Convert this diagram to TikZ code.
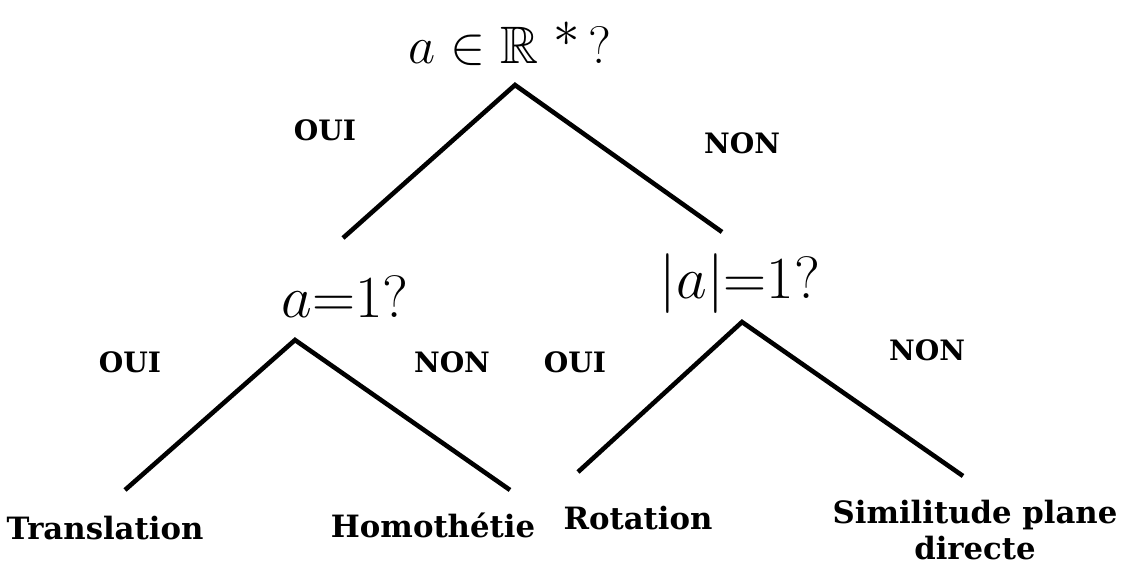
\documentclass[tikz,border=0pt]{standalone}
\usepackage{fix-cm}
\usepackage{amsmath,amssymb}
\usepackage{fontspec}
\newfontfamily\labfont{DejaVu Serif}
\usepackage{tikz}
\usetikzlibrary{positioning}

\begin{document}
\begin{tikzpicture}[
  x=0.02cm,y=-0.02cm,
  quest/.style={inner sep=0pt,font=\fontsize{34}{38}\selectfont},
  ans/.style={inner sep=0pt,font=\labfont\bfseries\fontsize{16}{18}\selectfont},
  leaf/.style={inner sep=0pt,align=center,font=\labfont\bfseries\fontsize{17.5}{20}\selectfont},
  branch/.style={line width=2.6pt}]
  \useasboundingbox (0,0) rectangle (1124,565);
  % questions
  \node[quest,font=\fontsize{30}{34}\selectfont] (qroot) at (510,44) {$a\in\mathbb{R}\;\raisebox{0.32em}{$*$}\,?$};
  \node[quest] (qone) at (345,297) {$a{=}1?$};
  \node[quest] (qmod) at (740,284) {$\lvert a\rvert{=}1?$};
  % branch points
  \coordinate (root) at (515,85);
  \coordinate (rootl) at (343,238);
  \coordinate (rootr) at (722,232);
  \coordinate (one) at (295,340);
  \coordinate (onel) at (125,490);
  \coordinate (oner) at (510,490);
  \coordinate (mod) at (742,322);
  \coordinate (modl) at (578,472);
  \coordinate (modr) at (963,476);
  % answers
  \node[ans] (oui1) at (325,130) {OUI};
  \node[ans] (non1) at (742,143) {NON};
  \node[ans] (oui2) at (130,362) {OUI};
  \node[ans] (non2) at (452,362) {NON};
  \node[ans] (oui3) at (575,362) {OUI};
  \node[ans] (non3) at (927,350) {NON};
  % leaves
  \node[leaf] (trans) at (105,528) {Translation};
  \node[leaf] (homo) at (433,525) {Homothétie};
  \node[leaf] (rot) at (638,518) {Rotation};
  \node[leaf] (simil) at (975,530) {Similitude plane\\directe};
  \draw[branch] (rootl) -- (root) -- (rootr);
  \draw[branch] (onel) -- (one) -- (oner);
  \draw[branch] (modl) -- (mod) -- (modr);
\end{tikzpicture}
\end{document}
